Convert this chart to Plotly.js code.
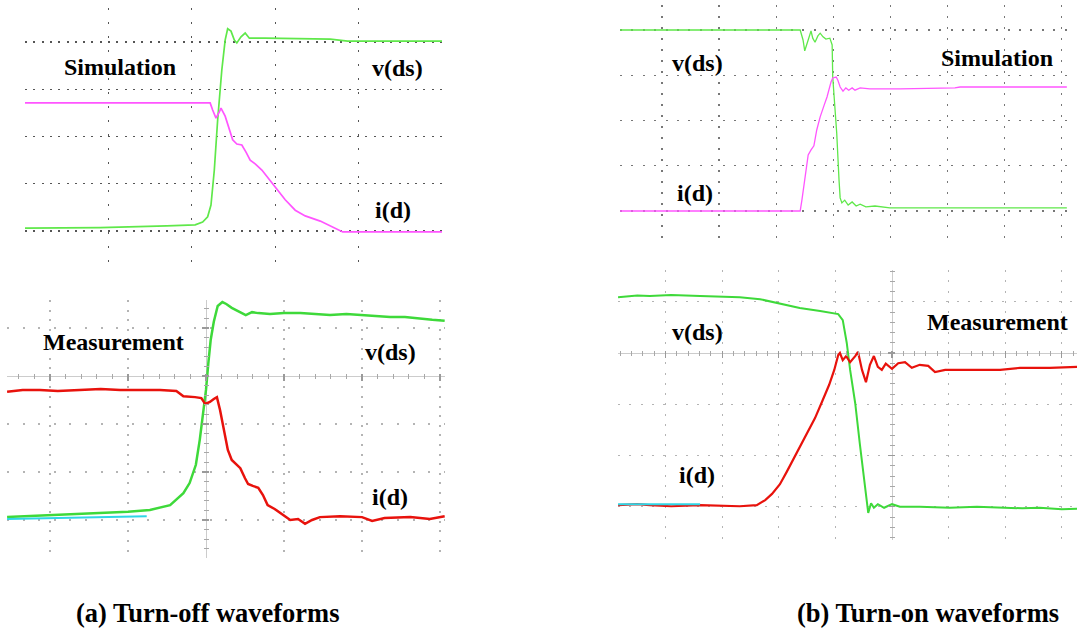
<!DOCTYPE html>
<html>
<head>
<meta charset="utf-8">
<script src="https://cdn.plot.ly/plotly-3.0.1.min.js"></script>
<style>html,body{margin:0;padding:0;background:#fff;}#chart{width:1081px;height:633px;}</style>
</head>
<body>
<div id="chart"></div>
<script>
// All values in oscilloscope divisions (time div, amplitude div)

// (a) Turn-off, simulation
const offSimVdsT = [0, 0.90, 1.70, 2.04, 2.13, 2.19, 2.23, 2.27, 2.31, 2.36, 2.40, 2.43, 2.47, 2.51, 2.54, 2.59, 2.64, 2.69, 2.76, 2.88, 3.66, 3.87, 5.0];
const offSimVds  = [0.06, 0.07, 0.11, 0.13, 0.19, 0.30, 0.55, 1.29, 2.35, 3.41, 4.04, 4.28, 4.23, 4.04, 3.98, 4.11, 4.19, 4.08, 4.08, 4.08, 4.06, 4.02, 4.02];
const offSimIdT  = [0, 2.22, 2.25, 2.29, 2.33, 2.35, 2.40, 2.43, 2.46, 2.49, 2.54, 2.60, 2.65, 2.70, 2.76, 2.84, 3.0, 3.12, 3.24, 3.36, 3.54, 3.72, 3.81, 5.0];
const offSimId   = [2.71, 2.71, 2.56, 2.39, 2.52, 2.60, 2.43, 2.26, 2.14, 1.93, 1.84, 1.82, 1.67, 1.50, 1.42, 1.29, 0.93, 0.66, 0.44, 0.32, 0.21, 0.06, -0.02, -0.02];

// (a) Turn-off, measurement
const offMeasVdsT = [-2.55, -2.3, -2.0, -1.7, -1.36, -1.0, -0.72, -0.46, -0.29, -0.21, -0.13, -0.08, -0.04, 0, 0.03, 0.06, 0.10, 0.15, 0.21, 0.26, 0.33, 0.44, 0.51, 0.59, 0.67, 0.82, 1.0, 1.21, 1.4, 1.59, 1.8, 1.97, 2.2, 2.36, 2.55, 2.74, 2.9, 3.06];
const offMeasVds  = [-2.94, -2.92, -2.90, -2.88, -2.85, -2.83, -2.79, -2.69, -2.44, -2.23, -1.85, -1.33, -0.81, -0.29, 0.27, 0.75, 1.13, 1.46, 1.54, 1.50, 1.42, 1.33, 1.27, 1.33, 1.31, 1.29, 1.31, 1.31, 1.29, 1.27, 1.29, 1.27, 1.25, 1.23, 1.23, 1.19, 1.17, 1.15];
const offMeasIdT  = [-2.55, -2.35, -2.13, -1.9, -1.62, -1.35, -1.10, -0.85, -0.59, -0.38, -0.29, -0.14, -0.06, -0.01, 0.05, 0.10, 0.14, 0.18, 0.23, 0.28, 0.33, 0.38, 0.44, 0.50, 0.54, 0.60, 0.67, 0.73, 0.79, 0.88, 0.97, 1.08, 1.18, 1.27, 1.36, 1.46, 1.72, 2.0, 2.13, 2.29, 2.62, 2.87, 3.06];
const offMeasId   = [-0.33, -0.29, -0.29, -0.31, -0.29, -0.27, -0.29, -0.29, -0.29, -0.31, -0.42, -0.44, -0.46, -0.58, -0.54, -0.48, -0.44, -0.71, -1.13, -1.54, -1.75, -1.83, -1.92, -2.13, -2.25, -2.29, -2.33, -2.48, -2.69, -2.77, -2.88, -3.0, -2.98, -3.08, -3.0, -2.94, -2.92, -2.94, -3.02, -2.96, -2.94, -2.98, -2.92];
const offMeasRefT = [-2.55, -0.76];
const offMeasRef  = [-2.98, -2.92];

// (b) Turn-on, simulation
const onSimVdsT = [-0.74, 2.42, 2.47, 2.50, 2.56, 2.61, 2.64, 2.68, 2.73, 2.77, 2.82, 2.87, 2.94, 2.98, 2.99, 3.03, 3.06, 3.10, 3.12, 3.15, 3.20, 3.26, 3.33, 3.40, 3.47, 3.57, 3.73, 3.99, 4.52, 7.09];
const onSimVds  = [4.0, 4.0, 3.78, 3.54, 3.78, 3.98, 3.82, 3.73, 3.87, 3.93, 3.85, 3.80, 3.82, 3.67, 2.96, 2.34, 1.72, 0.69, 0.29, 0.18, 0.24, 0.13, 0.20, 0.11, 0.15, 0.09, 0.11, 0.07, 0.07, 0.07];
const onSimIdT  = [-0.74, 2.42, 2.45, 2.50, 2.56, 2.61, 2.66, 2.71, 2.77, 2.84, 2.89, 2.96, 2.99, 3.05, 3.08, 3.12, 3.17, 3.22, 3.27, 3.33, 3.38, 3.47, 3.64, 4.17, 5.13, 5.22, 7.09];
const onSimId   = [0, 0, 0.24, 0.69, 1.24, 1.35, 1.44, 1.79, 2.08, 2.34, 2.52, 2.85, 2.94, 2.96, 2.89, 2.74, 2.65, 2.72, 2.67, 2.72, 2.67, 2.72, 2.70, 2.70, 2.72, 2.74, 2.74];

// (b) Turn-on, measurement
const onMeasVdsT = [-4.84, -4.5, -4.28, -3.9, -3.39, -3.0, -2.69, -2.33, -1.98, -1.63, -1.27, -0.95, -0.87, -0.80, -0.74, -0.65, -0.57, -0.48, -0.42, -0.37, -0.32, -0.25, -0.14, 0, 0.14, 0.49, 1.02, 1.5, 1.91, 2.3, 2.61, 3.0, 3.27];
const onMeasVds  = [1.09, 1.12, 1.11, 1.13, 1.11, 1.10, 1.09, 1.05, 0.96, 0.88, 0.82, 0.76, 0.64, 0.20, -0.33, -0.98, -1.76, -2.61, -3.12, -2.93, -3.02, -2.95, -3.02, -2.95, -3.0, -3.0, -3.02, -3.0, -3.02, -3.03, -3.02, -3.05, -3.04];
const onMeasIdT  = [-4.84, -4.5, -4.28, -3.9, -3.39, -3.0, -2.69, -2.39, -2.24, -2.12, -1.98, -1.86, -1.75, -1.63, -1.50, -1.36, -1.24, -1.11, -1.02, -0.95, -0.92, -0.87, -0.81, -0.74, -0.65, -0.60, -0.53, -0.46, -0.39, -0.32, -0.25, -0.18, -0.11, 0, 0.11, 0.23, 0.35, 0.49, 0.64, 0.76, 0.94, 1.20, 1.55, 1.91, 2.26, 2.79, 3.27];
const onMeasId   = [-2.97, -2.95, -2.97, -2.99, -2.97, -2.98, -2.99, -2.97, -2.87, -2.75, -2.56, -2.32, -2.09, -1.83, -1.56, -1.27, -0.96, -0.62, -0.33, -0.04, 0, -0.14, -0.06, -0.18, -0.06, 0.02, -0.33, -0.57, -0.23, -0.06, -0.27, -0.33, -0.21, -0.31, -0.20, -0.18, -0.29, -0.23, -0.25, -0.37, -0.33, -0.33, -0.33, -0.33, -0.29, -0.29, -0.27];
const onMeasRefT = [-4.84, -3.39];
const onMeasRef  = [-2.95, -2.95];

// Text
const panelLabels = ["Simulation", "Measurement", "v(ds)", "i(d)"];
const captions = ["(a) Turn-off waveforms", "(b) Turn-on waveforms"];

const W = 1081, H = 633;
const px = v => v / W;
const py = v => 1 - v / H;

const simGreen = "#5fe84a", simMag = "#ff55ff";
const measGreen = "#3ed93a", measRed = "#e8120c", cyan = "#2ed6e6";

const traces = [
  {x: offSimVdsT, y: offSimVds, xaxis: "x", yaxis: "y", mode: "lines", line: {color: simGreen, width: 1.7}},
  {x: offSimIdT, y: offSimId, xaxis: "x", yaxis: "y", mode: "lines", line: {color: simMag, width: 1.7}},
  {x: offMeasRefT, y: offMeasRef, xaxis: "x5", yaxis: "y2", mode: "lines", line: {color: cyan, width: 2}},
  {x: offMeasVdsT, y: offMeasVds, xaxis: "x2", yaxis: "y2", mode: "lines", line: {color: measGreen, width: 2.5}},
  {x: offMeasIdT, y: offMeasId, xaxis: "x2", yaxis: "y5", mode: "lines", line: {color: measRed, width: 2.5}},
  {x: onSimVdsT, y: onSimVds, xaxis: "x3", yaxis: "y3", mode: "lines", line: {color: simGreen, width: 1.3}},
  {x: onSimIdT, y: onSimId, xaxis: "x3", yaxis: "y3", mode: "lines", line: {color: simMag, width: 1.3}},
  {x: onMeasRefT, y: onMeasRef, xaxis: "x6", yaxis: "y4", mode: "lines", line: {color: cyan, width: 2}},
  {x: onMeasIdT, y: onMeasId, xaxis: "x4", yaxis: "y6", mode: "lines", line: {color: measRed, width: 2.2}},
  {x: onMeasVdsT, y: onMeasVds, xaxis: "x4", yaxis: "y4", mode: "lines", line: {color: measGreen, width: 2}}
];

function gridAxis(domain, range, dash, color, tick0, zl) {
  return {domain: domain, range: range, tick0: tick0, dtick: 1, showgrid: true, gridcolor: color, gridwidth: 1.3,
          griddash: dash, zeroline: !!zl, zerolinecolor: "#cccccc", zerolinewidth: 1,
          showline: false, showticklabels: false, ticks: "", fixedrange: true};
}

// panel geometry (pixels)
const p1 = {l: 25, r: 442, t: 8, b: 265};
const p2 = {l: 7, r: 445, t: 300, b: 558, cx: 206, cy: 376};
const p3 = {l: 620, r: 1067, t: 5, b: 245};
const p4 = {l: 618, r: 1077, t: 270, b: 540, cx: 892, cy: 353};

function centerXAxis(dom, range, overlay, posPx) {
  return {domain: dom, range: range, overlaying: overlay, anchor: "free", position: py(posPx - 3), side: "bottom",
          showgrid: false, zeroline: false, showline: false, showticklabels: false,
          ticks: "outside", tick0: 0, dtick: 1, ticklen: 7, tickwidth: 1.3, tickcolor: "#9a9a9a",
          minor: {dtick: 0.2, ticks: "outside", ticklen: 5, tickwidth: 1, tickcolor: "#a8a8a8"}, fixedrange: true};
}
function centerYAxis(dom, range, overlay, posPx) {
  return {domain: dom, range: range, overlaying: overlay, anchor: "free", position: px(posPx + 3), side: "left",
          showgrid: false, zeroline: false, showline: false, showticklabels: false,
          ticks: "outside", tick0: 0, dtick: 1, ticklen: 7, tickwidth: 1.3, tickcolor: "#9a9a9a",
          minor: {dtick: 0.2, ticks: "outside", ticklen: 5, tickwidth: 1, tickcolor: "#a8a8a8"}, fixedrange: true};
}

const x2range = [(p2.l - p2.cx) / 78, (p2.r - p2.cx) / 78];
const y2range = [(p2.cy - p2.b) / 48, (p2.cy - p2.t) / 48];
const x4range = [(p4.l - p4.cx) / 56.6, (p4.r - p4.cx) / 56.6];
const y4range = [(p4.cy - p4.b) / 51.25, (p4.cy - p4.t) / 51.25];

const layout = {
  width: W, height: H, margin: {l: 0, r: 0, t: 0, b: 0}, showlegend: false,
  paper_bgcolor: "#ffffff", plot_bgcolor: "rgba(0,0,0,0)",
  xaxis: gridAxis([px(p1.l), px(p1.r)], [0, 5], "2px,12px", "#555555", 0),
  yaxis: gridAxis([py(p1.b), py(p1.t)], [(231 - p1.b) / 47.25, (231 - p1.t) / 47.25], "2px,6.3px", "#555555", 0),
  xaxis2: gridAxis([px(p2.l), px(p2.r)], x2range, "2px,7.6px", "#b4b4b4", 0, true),
  yaxis2: gridAxis([py(p2.b), py(p2.t)], y2range, "2px,13.6px", "#b4b4b4", 0, true),
  xaxis3: gridAxis([px(p3.l), px(p3.r)], [(p3.l - 662) / 57.1, (p3.r - 662) / 57.1], "2px,9px", "#777777", 0),
  yaxis3: gridAxis([py(p3.b), py(p3.t)], [(211 - p3.b) / 45.25, (211 - p3.t) / 45.25], "2px,9.4px", "#777777", 0),
  xaxis4: gridAxis([px(p4.l), px(p4.r)], x4range, "2px,8.25px", "#b4b4b4", 0, true),
  yaxis4: gridAxis([py(p4.b), py(p4.t)], y4range, "2px,9.3px", "#b4b4b4", 0, true),
  xaxis5: centerXAxis([px(p2.l), px(p2.r)], x2range, "x2", p2.cy),
  yaxis5: centerYAxis([py(p2.b), py(p2.t)], y2range, "y2", p2.cx),
  xaxis6: centerXAxis([px(p4.l), px(p4.r)], x4range, "x4", p4.cy),
  yaxis6: centerYAxis([py(p4.b), py(p4.t)], y4range, "y4", p4.cx),
  annotations: []
};
layout.xaxis2.anchor = "y2"; layout.yaxis2.anchor = "x2";
layout.xaxis3.anchor = "y3"; layout.yaxis3.anchor = "x3";
layout.xaxis4.anchor = "y4"; layout.yaxis4.anchor = "x4";

const labFont = {family: "Liberation Serif", size: 24, color: "#000"};
function lab(text, cx, cy, size) {
  layout.annotations.push({text: "<b>" + text + "</b>", xref: "paper", yref: "paper", x: px(cx), y: py(cy),
    xanchor: "center", yanchor: "middle", showarrow: false, font: Object.assign({}, labFont, size ? {size: size} : {})});
}
lab(panelLabels[0], 120, 67);
lab(panelLabels[2], 397, 68);
lab(panelLabels[3], 393, 210);
lab(panelLabels[1], 113, 342);
lab(panelLabels[2], 390, 352);
lab(panelLabels[3], 390, 497);
lab(panelLabels[0], 997, 58);
lab(panelLabels[2], 697, 63);
lab(panelLabels[3], 695, 193);
lab(panelLabels[1], 997, 322);
lab(panelLabels[2], 697, 332);
lab(panelLabels[3], 697, 475);
lab(captions[0], 208, 613, 26.5);
lab(captions[1], 928, 613, 26.5);

Plotly.newPlot("chart", traces, layout, {staticPlot: true, displayModeBar: false});
</script>
</body>
</html>
